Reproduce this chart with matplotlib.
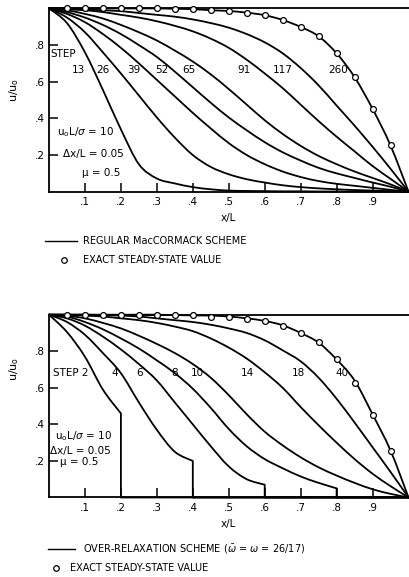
import matplotlib
matplotlib.use('Agg')
import matplotlib.pyplot as plt
from matplotlib.path import Path
from matplotlib.patches import PathPatch

# grid points x/L
x = [0.0, 0.05, 0.1, 0.15, 0.2, 0.25, 0.3, 0.35, 0.4, 0.45, 0.5,
     0.55, 0.6, 0.65, 0.7, 0.75, 0.8, 0.85, 0.9, 0.95, 1.0]

# exact steady-state values (circles)
exact_x = [0.05, 0.1, 0.15, 0.2, 0.25, 0.3, 0.35, 0.4, 0.45, 0.5,
           0.55, 0.6, 0.65, 0.7, 0.75, 0.8, 0.85, 0.9, 0.95]
exact_u = [1.0, 1.0, 1.0, 1.0, 1.0, 1.0, 0.998, 0.996, 0.99, 0.986,
           0.977, 0.963, 0.937, 0.899, 0.848, 0.755, 0.625, 0.452, 0.252]

# regular MacCormack scheme
top_steps = ['13', '26', '39', '52', '65', '91', '117', '260']
u13 = [1.0, 0.92, 0.76, 0.555, 0.34, 0.15, 0.072, 0.045, 0.025, 0.013, 0.006,
       0.004, 0.003, 0.002, 0.002, 0.001, 0.001, 0.001, 0.0005, 0.0, 0.0]
u26 = [1.0, 0.95, 0.87, 0.76, 0.645, 0.525, 0.405, 0.295, 0.20, 0.135, 0.095,
       0.068, 0.05, 0.035, 0.025, 0.018, 0.013, 0.009, 0.006, 0.003, 0.0]
u39 = [1.0, 0.97, 0.925, 0.86, 0.785, 0.70, 0.61, 0.52, 0.43, 0.345, 0.265,
       0.20, 0.15, 0.11, 0.08, 0.058, 0.043, 0.032, 0.021, 0.01, 0.0]
u52 = [1.0, 0.98, 0.95, 0.91, 0.86, 0.80, 0.735, 0.655, 0.57, 0.485, 0.405,
       0.335, 0.27, 0.215, 0.17, 0.13, 0.10, 0.075, 0.05, 0.027, 0.0]
u65 = [1.0, 0.99, 0.97, 0.945, 0.91, 0.87, 0.825, 0.77, 0.71, 0.64, 0.56,
       0.475, 0.39, 0.315, 0.25, 0.195, 0.15, 0.11, 0.075, 0.04, 0.0]
u91 = [1.0, 0.995, 0.99, 0.98, 0.965, 0.95, 0.93, 0.905, 0.875, 0.835, 0.785,
       0.72, 0.645, 0.565, 0.475, 0.385, 0.30, 0.22, 0.14, 0.07, 0.0]
u117 = [1.0, 1.0, 0.995, 0.99, 0.985, 0.975, 0.965, 0.955, 0.94, 0.92, 0.895,
        0.86, 0.815, 0.755, 0.675, 0.58, 0.47, 0.36, 0.245, 0.125, 0.0]
u260 = [1.0, 1.0, 1.0, 1.0, 1.0, 1.0, 1.0, 0.998, 0.996, 0.99, 0.986,
        0.977, 0.963, 0.937, 0.899, 0.848, 0.755, 0.625, 0.452, 0.252, 0.0]
top_curves = [u13, u26, u39, u52, u65, u91, u117, u260]
top_label_x = [0.081, 0.15, 0.236, 0.314, 0.389, 0.542, 0.651, 0.804]

# over-relaxation scheme
bot_steps = ['2', '4', '6', '8', '10', '14', '18', '40']
x2 = [0.0, 0.05, 0.1, 0.15, 0.2, 0.2, 1.0]
u2 = [1.0, 0.905, 0.77, 0.59, 0.46, 0.0, 0.0]
x4 = [0.0, 0.05, 0.1, 0.15, 0.2, 0.25, 0.3, 0.35, 0.4, 0.4, 1.0]
u4 = [1.0, 0.96, 0.89, 0.79, 0.68, 0.52, 0.37, 0.25, 0.2, 0.0, 0.0]
x6 = [0.0, 0.05, 0.1, 0.15, 0.2, 0.25, 0.3, 0.35, 0.4, 0.45, 0.5, 0.55, 0.6, 0.6, 1.0]
u6 = [1.0, 0.98, 0.94, 0.88, 0.81, 0.73, 0.64, 0.52, 0.40, 0.28, 0.17, 0.10, 0.07, 0.0, 0.0]
x8 = [0.0, 0.05, 0.1, 0.15, 0.2, 0.25, 0.3, 0.35, 0.4, 0.45, 0.5,
      0.55, 0.6, 0.65, 0.7, 0.75, 0.8, 0.8, 1.0]
u8 = [1.0, 0.99, 0.96, 0.92, 0.87, 0.815, 0.75, 0.68, 0.595, 0.49, 0.375,
      0.28, 0.21, 0.16, 0.115, 0.08, 0.05, 0.0, 0.0]
u10 = [1.0, 0.995, 0.98, 0.955, 0.925, 0.885, 0.84, 0.79, 0.73, 0.655, 0.56,
       0.455, 0.36, 0.285, 0.22, 0.165, 0.12, 0.08, 0.045, 0.02, 0.0]
u14 = [1.0, 1.0, 0.995, 0.99, 0.98, 0.97, 0.955, 0.935, 0.91, 0.87, 0.82,
       0.76, 0.685, 0.60, 0.495, 0.395, 0.30, 0.21, 0.13, 0.062, 0.0]
u18 = [1.0, 1.0, 1.0, 0.998, 0.995, 0.99, 0.98, 0.97, 0.96, 0.945, 0.925,
       0.90, 0.86, 0.805, 0.745, 0.655, 0.54, 0.41, 0.275, 0.14, 0.0]
u40 = [1.0, 1.0, 1.0, 1.0, 1.0, 1.0, 1.0, 0.998, 0.996, 0.995, 0.99,
       0.98, 0.966, 0.942, 0.90, 0.847, 0.755, 0.64, 0.455, 0.257, 0.0]
bot_x = [x2, x4, x6, x8, x, x, x, x]
bot_curves = [u2, u4, u6, u8, u10, u14, u18, u40]
bot_label_x = [0.184, 0.253, 0.348, 0.414, 0.551, 0.695, 0.815]

fs = 7.5
lw = 1.3


def curve(ax, xs, us):
    # smooth drawing through the grid values, straight where the profile drops vertically
    pts = list(zip(xs, us))
    n = len(pts)
    vert = [pts[i][0] == pts[i + 1][0] for i in range(n - 1)]
    straight = [vert[i] or (i > 0 and vert[i - 1]) for i in range(n - 1)]
    verts = [pts[0]]
    codes = [Path.MOVETO]
    for i in range(n - 1):
        p1, p2 = pts[i], pts[i + 1]
        if straight[i]:
            verts.append(p2)
            codes.append(Path.LINETO)
            continue
        p0 = pts[i - 1] if i > 0 and not straight[i - 1] else p1
        p3 = pts[i + 2] if i + 2 < n and not vert[i + 1] else p2
        c1 = (p1[0] + (p2[0] - p0[0]) / 6, p1[1] + (p2[1] - p0[1]) / 6)
        c2 = (p2[0] - (p3[0] - p1[0]) / 6, p2[1] - (p3[1] - p1[1]) / 6)
        verts += [c1, c2, p2]
        codes += [Path.CURVE4] * 3
    ax.add_patch(PathPatch(Path(verts, codes), fill=False, ec='black', lw=lw,
                           clip_on=False, capstyle='round', joinstyle='round'))


fig = plt.figure(figsize=(4.09, 5.77), dpi=100)
ax1 = fig.add_axes([0.1198, 0.6678, 0.879, 0.3176])
ax2 = fig.add_axes([0.1198, 0.1378, 0.879, 0.3168])


def style(ax):
    ax.set_xlim(0, 1)
    ax.set_ylim(0, 1)
    ax.spines['right'].set_visible(False)
    for s in ['left', 'bottom', 'top']:
        ax.spines[s].set_linewidth(1.3)
    ax.set_xticks([0.1, 0.2, 0.3, 0.4, 0.5, 0.6, 0.7, 0.8, 0.9])
    ax.set_xticklabels(['.1', '.2', '.3', '.4', '.5', '.6', '.7', '.8', '.9'])
    ax.set_yticks([0.2, 0.4, 0.6, 0.8])
    ax.set_yticklabels(['.2', '.4', '.6', '.8'])
    ax.tick_params(direction='in', length=6.5, width=1.1, labelsize=fs, pad=4)
    ax.tick_params(axis='y', pad=3)
    ax.tick_params(top=False, right=False)
    ax.set_xlabel('x/L', fontsize=fs, labelpad=4)


style(ax1)
for u in top_curves:
    curve(ax1, x, u)
ax1.plot(exact_x, exact_u, 'o', ms=4.2, mfc='white', mec='black', mew=0.9, clip_on=False, zorder=5)
ax1.text(0.003, 0.75, 'STEP', fontsize=fs, va='center', ha='left')
for lx, s in zip(top_label_x, top_steps):
    ax1.text(lx, 0.664, s, fontsize=fs, va='center', ha='center')
ax1.text(0.022, 0.325, r'u$_{\mathrm{o}}$L/$\sigma$ = 10', fontsize=fs, va='center')
ax1.text(0.04, 0.205, 'Δx/L = 0.05', fontsize=fs, va='center')
ax1.text(0.092, 0.10, 'μ = 0.5', fontsize=fs, va='center')

style(ax2)
for xx, u in zip(bot_x, bot_curves):
    curve(ax2, xx, u)
ax2.plot(exact_x, exact_u, 'o', ms=4.2, mfc='white', mec='black', mew=0.9, clip_on=False, zorder=5)
ax2.text(0.011, 0.681, 'STEP ' + bot_steps[0], fontsize=fs, va='center', ha='left')
for lx, s in zip(bot_label_x, bot_steps[1:]):
    ax2.text(lx, 0.681, s, fontsize=fs, va='center', ha='center')
ax2.text(0.017, 0.336, r'u$_{\mathrm{o}}$L/$\sigma$ = 10', fontsize=fs, va='center')
ax2.text(0.002, 0.254, 'Δx/L = 0.05', fontsize=fs, va='center')
ax2.text(0.03, 0.195, 'μ = 0.5', fontsize=fs, va='center')

# y labels
fig.text(14 / 409, 1 - 90 / 577, r'u/u$_{\mathrm{o}}$', rotation=90, fontsize=fs + 0.5, ha='center', va='center')
fig.text(14 / 409, 1 - 369 / 577, r'u/u$_{\mathrm{o}}$', rotation=90, fontsize=fs + 0.5, ha='center', va='center')

# legends under each panel
fig.add_artist(plt.Line2D([45 / 409, 77 / 409], [1 - 241 / 577, 1 - 241 / 577], color='black', lw=1.0))
fig.text(83 / 409, 1 - 241 / 577, 'REGULAR MacCORMACK SCHEME', fontsize=7, va='center')
fig.add_artist(plt.Line2D([64 / 409], [1 - 260 / 577], marker='o', ms=4, mfc='white', mec='black', mew=0.9))
fig.text(83 / 409, 1 - 260 / 577, 'EXACT STEADY-STATE VALUE', fontsize=7, va='center')

fig.add_artist(plt.Line2D([48 / 409, 75 / 409], [1 - 549 / 577, 1 - 549 / 577], color='black', lw=1.0))
fig.text(83 / 409, 1 - 549 / 577, r'OVER-RELAXATION SCHEME ($\bar{\omega}$ = $\omega$ = 26/17)', fontsize=7, va='center')
fig.add_artist(plt.Line2D([56 / 409], [1 - 568 / 577], marker='o', ms=4, mfc='white', mec='black', mew=0.9))
fig.text(70 / 409, 1 - 568 / 577, 'EXACT STEADY-STATE VALUE', fontsize=7, va='center')

fig.savefig('out.png', dpi=100)
